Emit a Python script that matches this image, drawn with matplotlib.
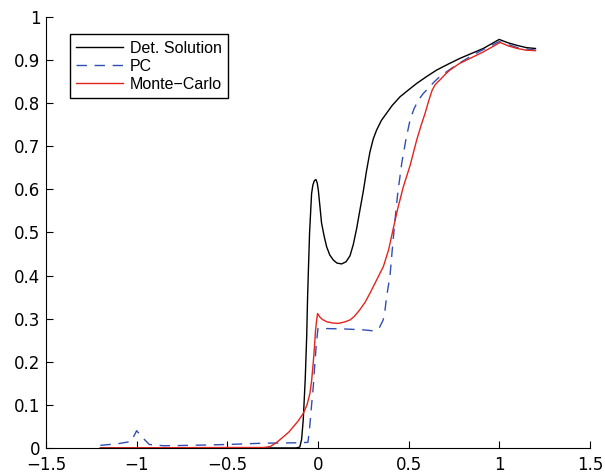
import matplotlib
matplotlib.use("Agg")
import matplotlib.pyplot as plt
import numpy as np

plt.rcParams['font.family'] = ['DejaVu Sans']
plt.rcParams['axes.unicode_minus'] = True

# deterministic solution
x_det = [-1.2, -0.5, -0.12, -0.1, -0.09, -0.081, -0.07, -0.062, -0.057, -0.052,
         -0.046, -0.035, -0.028, -0.02, -0.011, -0.004, 0.002, 0.01, 0.02, 0.035,
         0.048, 0.065, 0.085, 0.105, 0.131, 0.155, 0.177, 0.195, 0.214, 0.232,
         0.25, 0.268, 0.287, 0.305, 0.324, 0.35, 0.379, 0.41, 0.453, 0.5,
         0.545, 0.6, 0.655, 0.72, 0.783, 0.85, 0.912, 1.0, 1.05, 1.1,
         1.15, 1.2]
y_det = [0.0, 0.0, 0.0, 0.002, 0.02, 0.065, 0.16, 0.258, 0.35, 0.42,
         0.5, 0.59, 0.61, 0.62, 0.623, 0.615, 0.599, 0.565, 0.522, 0.49,
         0.467, 0.448, 0.436, 0.429, 0.427, 0.432, 0.446, 0.472, 0.51, 0.553,
         0.595, 0.643, 0.687, 0.717, 0.738, 0.76, 0.777, 0.795, 0.815, 0.831,
         0.846, 0.862, 0.877, 0.891, 0.904, 0.916, 0.927, 0.948, 0.940, 0.934,
         0.929, 0.927]

# polynomial chaos
x_pc = [-1.2, -1.1, -1.03, -1.0, -0.97, -0.93, -0.85, -0.7, -0.5, -0.3,
        -0.1, -0.055, -0.045, -0.035, -0.026, -0.018, -0.009, 0.0, 0.05, 0.15,
        0.25, 0.3, 0.32, 0.34, 0.36, 0.37, 0.379, 0.388, 0.397, 0.41,
        0.425, 0.44, 0.462, 0.485, 0.508, 0.53, 0.554, 0.58, 0.609, 0.64,
        0.673, 0.72, 0.765, 0.839, 0.9, 1.0, 1.1, 1.2]
y_pc = [0.006, 0.01, 0.015, 0.04, 0.025, 0.008, 0.005, 0.006, 0.008, 0.011,
        0.012, 0.013, 0.05, 0.1, 0.14, 0.19, 0.24, 0.277, 0.277, 0.276,
        0.274, 0.272, 0.273, 0.28, 0.297, 0.32, 0.351, 0.375, 0.397, 0.46,
        0.529, 0.59, 0.66, 0.715, 0.761, 0.787, 0.807, 0.822, 0.835, 0.849,
        0.862, 0.876, 0.889, 0.908, 0.922, 0.943, 0.929, 0.923]

# Monte-Carlo
x_mc = [-1.2, -0.5, -0.3, -0.264, -0.23, -0.19, -0.16, -0.136, -0.11, -0.081,
        -0.06, -0.044, -0.035, -0.026, -0.019, -0.013, -0.006, -0.002, 0.01, 0.025,
        0.048, 0.08, 0.112, 0.145, 0.177, 0.2, 0.23, 0.26, 0.287, 0.324,
        0.361, 0.39, 0.416, 0.44, 0.471, 0.508, 0.545, 0.57, 0.59, 0.605,
        0.618, 0.63, 0.645, 0.66, 0.673, 0.7, 0.728, 0.78, 0.839, 0.912,
        1.005, 1.05, 1.1, 1.15, 1.2]
y_mc = [0.0, 0.001, 0.001, 0.003, 0.012, 0.026, 0.037, 0.049, 0.062, 0.08,
        0.1, 0.127, 0.155, 0.197, 0.235, 0.274, 0.3, 0.312, 0.304, 0.298,
        0.293, 0.29, 0.289, 0.292, 0.297, 0.305, 0.32, 0.338, 0.359, 0.39,
        0.421, 0.46, 0.51, 0.555, 0.606, 0.655, 0.715, 0.75, 0.775, 0.797,
        0.815, 0.83, 0.842, 0.849, 0.854, 0.866, 0.877, 0.892, 0.904, 0.919,
        0.941, 0.933, 0.927, 0.923, 0.922]

xticks = [-1.5, -1, -0.5, 0, 0.5, 1, 1.5]
yticks = [0, 0.1, 0.2, 0.3, 0.4, 0.5, 0.6, 0.7, 0.8, 0.9, 1]

fig = plt.figure(figsize=(6.05, 4.73), dpi=100)
ax = fig.add_axes([0.076, 0.053, 0.899, 0.911])

ax.plot(x_det, y_det, color='k', lw=1.0, label='Det. Solution')
ax.plot(x_pc, y_pc, color='#2f4fb5', lw=1.0, dashes=(7.5, 5.5), label='PC')
ax.plot(x_mc, y_mc, color='#e3241d', lw=1.0, label='Monte\u2212Carlo')

ax.set_xlim(-1.5, 1.5)
ax.set_ylim(0, 1)
ax.set_xticks(xticks)
ax.set_yticks(yticks)
ax.set_xticklabels(['\u22121.5', '\u22121', '\u22120.5', '0', '0.5', '1', '1.5'])
ax.set_yticklabels(['0', '0.1', '0.2', '0.3', '0.4', '0.5', '0.6', '0.7', '0.8', '0.9', '1'])

ax.spines["top"].set_visible(False)
ax.spines["right"].set_visible(False)
ax.tick_params(direction='in', length=5, width=0.8, labelsize=12)
ax.tick_params(axis='x', pad=6)
ax.tick_params(axis='y', pad=4)

leg = ax.legend(loc='upper left', bbox_to_anchor=(0.044, 0.96), borderaxespad=0,
                fancybox=False, framealpha=1, edgecolor='k',
                prop={'family': 'Liberation Sans', 'size': 11.5},
                handlelength=2.9, handletextpad=0.45, labelspacing=0.2,
                borderpad=0.4)
leg.get_frame().set_linewidth(1.0)

plt.savefig('out.png', facecolor='w')
